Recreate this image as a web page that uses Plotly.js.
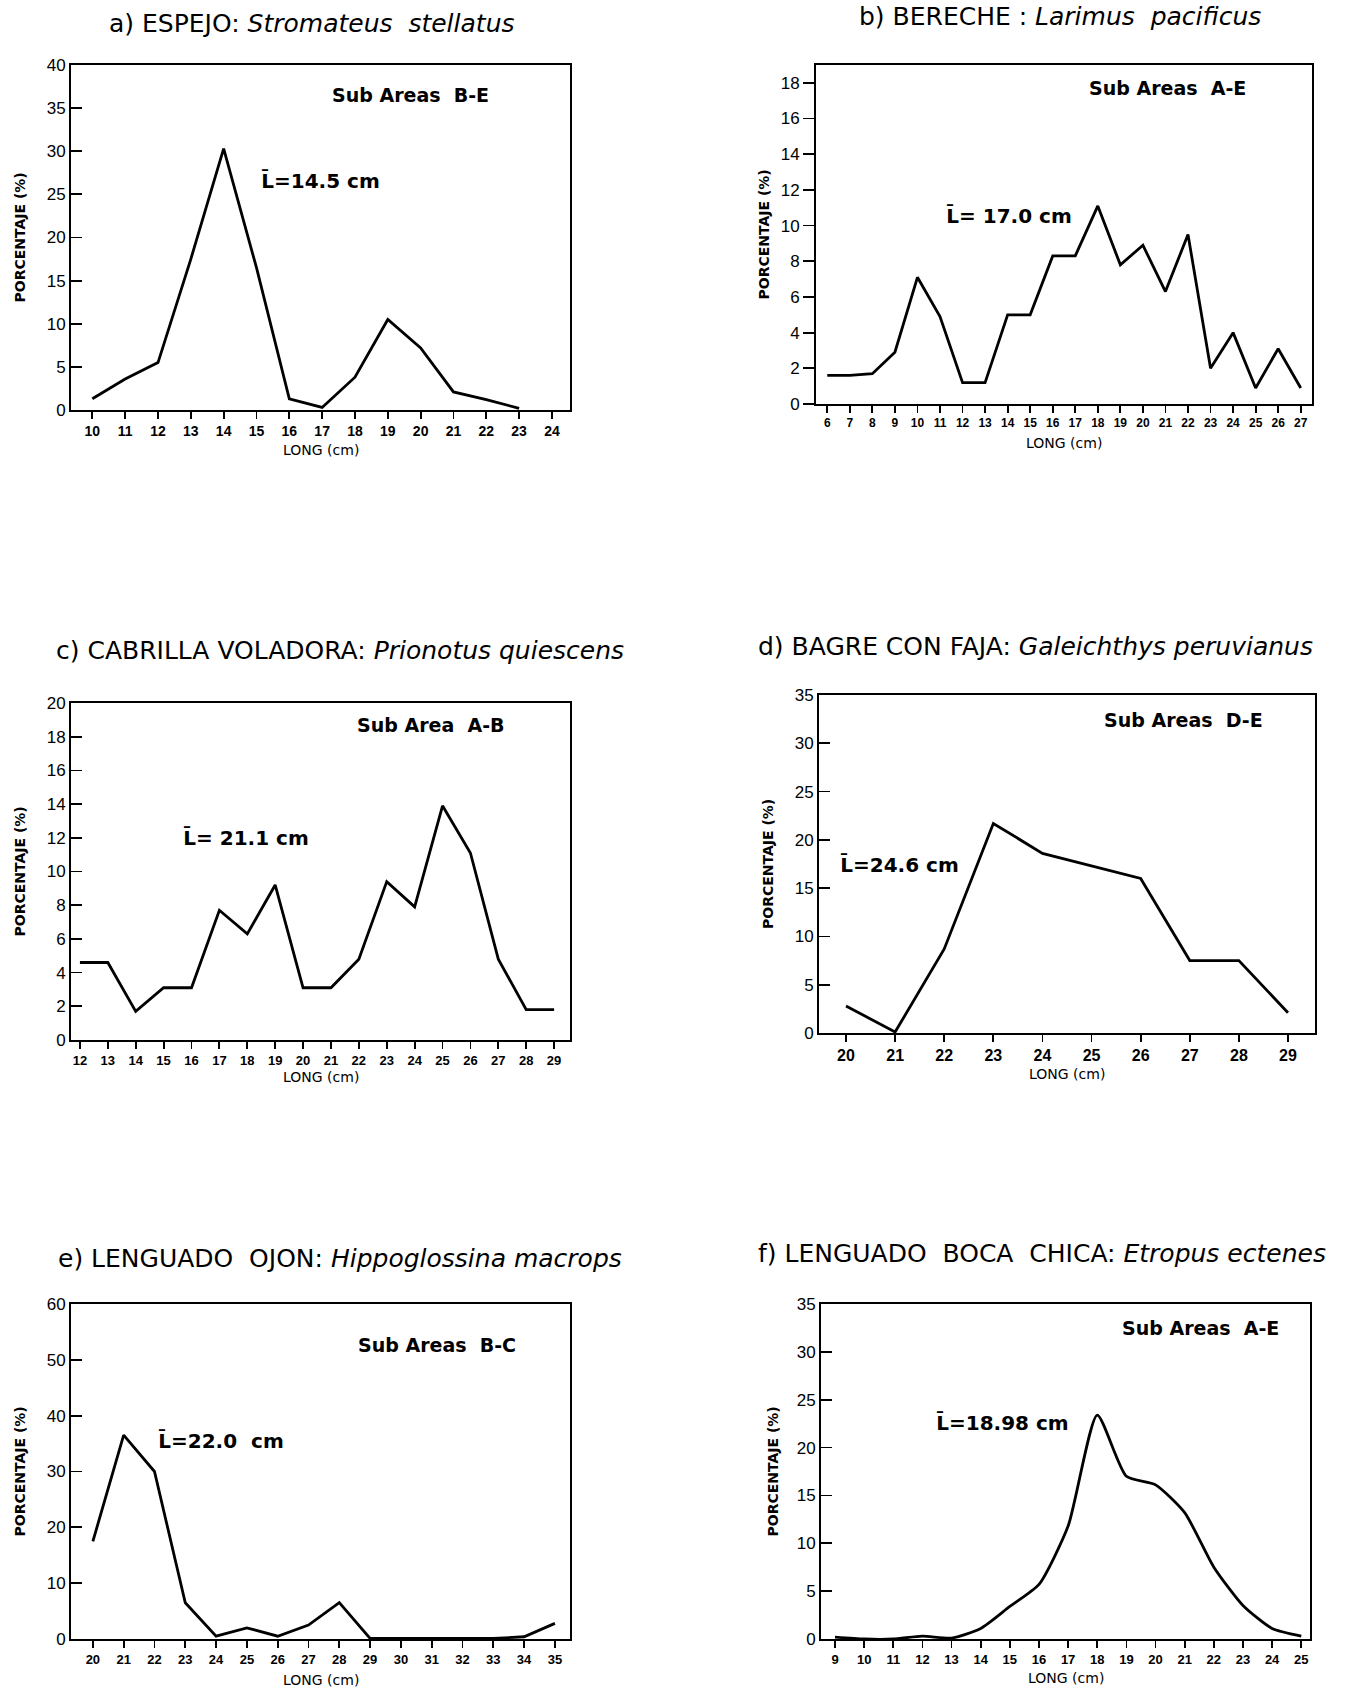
<!DOCTYPE html>
<html>
<head>
<meta charset="utf-8">
<script src="https://cdn.plot.ly/plotly-3.0.1.min.js"></script>
<style>
  html, body { margin: 0; padding: 0; background: #fff; }
  #chart { width: 1353px; height: 1690px; }
</style>
</head>
<body>
<div id="chart"></div>
<script>
// ---------- DATA ----------
const lenA = [10, 11, 12, 13, 14, 15, 16, 17, 18, 19, 20, 21, 22, 23];
const pctA = [1.3, 3.6, 5.5, 17.5, 30.3, 16.5, 1.3, 0.3, 3.8, 10.5, 7.2, 2.1, 1.2, 0.2];

const lenB = [6, 7, 8, 9, 10, 11, 12, 13, 14, 15, 16, 17, 18, 19, 20, 21, 22, 23, 24, 25, 26, 27];
const pctB = [1.6, 1.6, 1.7, 2.9, 7.1, 4.9, 1.2, 1.2, 5.0, 5.0, 8.3, 8.3, 11.1, 7.8, 8.9, 6.3, 9.5, 2.0, 4.0, 0.9, 3.1, 0.9];

const lenC = [12, 13, 14, 15, 16, 17, 18, 19, 20, 21, 22, 23, 24, 25, 26, 27, 28, 29];
const pctC = [4.6, 4.6, 1.7, 3.1, 3.1, 7.7, 6.3, 9.2, 3.1, 3.1, 4.8, 9.4, 7.9, 13.9, 11.1, 4.8, 1.8, 1.8];

const lenD = [20, 21, 22, 23, 24, 25, 26, 27, 28, 29];
const pctD = [2.8, 0.1, 8.7, 21.7, 18.6, 17.3, 16.0, 7.5, 7.5, 2.1];

const lenE = [20, 21, 22, 23, 24, 25, 26, 27, 28, 29, 30, 31, 32, 33, 34, 35];
const pctE = [17.5, 36.5, 30.0, 6.5, 0.5, 2.0, 0.5, 2.5, 6.5, 0.1, 0.1, 0.1, 0.1, 0.1, 0.4, 2.8];

const lenF = [9, 10, 11, 12, 13, 14, 15, 16, 17, 18, 19, 20, 21, 22, 23, 24, 25];
const pctF = [0.2, 0.0, 0.0, 0.3, 0.1, 1.1, 3.4, 5.7, 11.8, 23.4, 17.0, 16.1, 13.2, 7.5, 3.5, 1.1, 0.3];

const ticksA = [0, 5, 10, 15, 20, 25, 30, 35, 40];
const ticksB = [0, 2, 4, 6, 8, 10, 12, 14, 16, 18];
const ticksC = [0, 2, 4, 6, 8, 10, 12, 14, 16, 18, 20];
const ticksD = [0, 5, 10, 15, 20, 25, 30, 35];
const ticksE = [0, 10, 20, 30, 40, 50, 60];
const ticksF = [0, 5, 10, 15, 20, 25, 30, 35];

const titles = [
  'a) ESPEJO: <i>Stromateus  stellatus</i>',
  'b) BERECHE : <i>Larimus  pacificus</i>',
  'c) CABRILLA VOLADORA: <i>Prionotus quiescens</i>',
  'd) BAGRE CON FAJA: <i>Galeichthys peruvianus</i>',
  'e) LENGUADO  OJON: <i>Hippoglossina macrops</i>',
  'f) LENGUADO  BOCA  CHICA: <i>Etropus ectenes</i>'
];
const subAreas = ['Sub Areas  B-E', 'Sub Areas  A-E', 'Sub Area  A-B', 'Sub Areas  D-E', 'Sub Areas  B-C', 'Sub Areas  A-E'];
const means = ['L\u0304=14.5 cm', 'L\u0304= 17.0 cm', 'L\u0304= 21.1 cm', 'L\u0304=24.6 cm', 'L\u0304=22.0  cm', 'L\u0304=18.98 cm'];
const yTitle = 'PORCENTAJE (%)';
const xTitle = 'LONG (cm)';

// ---------- LAYOUT ----------
const W = 1353, H = 1690;
const px = v => v / W;
const py = v => 1 - v / H;

const panels = [
  {x: lenA, y: pctA, yt: ticksA, yr: [0, 40],  xr: [9.35, 24.55], box: [71, 570, 65, 410],   tt: [312, 24],   sa: [410, 95],   mn: [259, 181],  yl: 19,  xl: 450,  ytick: 'inside', xfs: 14},
  {x: lenB, y: pctB, yt: ticksB, yr: [0, 19],  xr: [5.5, 27.5],   box: [816, 1312, 65, 404], tt: [1060, 16],  sa: [1167, 88],  mn: [944, 216],  yl: 763, xl: 443,  ytick: 'outside', xfs: 12},
  {x: lenC, y: pctC, yt: ticksC, yr: [0, 20],  xr: [11.68, 29.57], box: [71, 570, 703, 1040], tt: [340, 651],  sa: [431, 725],  mn: [181, 838],  yl: 19,  xl: 1077, ytick: 'inside', xfs: 13},
  {x: lenD, y: pctD, yt: ticksD, yr: [0, 35],  xr: [19.45, 29.55], box: [819, 1315, 695, 1033], tt: [1035, 646], sa: [1183, 720], mn: [838, 865],  yl: 768, xl: 1074, ytick: 'inside', xfs: 16},
  {x: lenE, y: pctE, yt: ticksE, yr: [0, 60],  xr: [19.29, 35.49], box: [71, 570, 1304, 1639], tt: [340, 1258], sa: [437, 1345], mn: [156, 1441], yl: 19,  xl: 1680, ytick: 'inside', xfs: 13},
  {x: lenF, y: pctF, yt: ticksF, yr: [0, 35],  xr: [8.52, 25.3],  box: [821, 1310, 1304, 1639], tt: [1042, 1253], sa: [1200, 1328], mn: [934, 1423], yl: 772, xl: 1678, ytick: 'inside', xfs: 13}
];

const FONT = 'Liberation Sans, Arial, sans-serif';
const DV = 'DejaVu Sans, sans-serif';
const traces = [];
const layout = {
  width: W, height: H,
  margin: {l: 0, r: 0, t: 0, b: 0},
  paper_bgcolor: '#fff', plot_bgcolor: '#fff',
  showlegend: false,
  font: {family: FONT, color: '#000'},
  annotations: []
};

panels.forEach((p, i) => {
  const n = i + 1;
  const xa = 'xaxis' + (n === 1 ? '' : n);
  const ya = 'yaxis' + (n === 1 ? '' : n);
  const xref = 'x' + (n === 1 ? '' : n);
  const yref = 'y' + (n === 1 ? '' : n);
  const [l, r, t, b] = p.box;
  traces.push({
    type: 'scatter', mode: 'lines', x: p.x, y: p.y,
    xaxis: xref, yaxis: yref,
    line: {color: '#000', width: 2.8, shape: (n === 6 ? 'spline' : 'linear'), smoothing: 0.6},
    hoverinfo: 'skip', cliponaxis: false
  });
  const xticks = p.x.concat(n === 1 ? [24] : []);
  layout[xa] = {
    domain: [px(l), px(r)], anchor: yref, range: p.xr,
    tickmode: 'array', tickvals: xticks, ticktext: xticks.map(String),
    ticks: 'outside', ticklen: 7, tickwidth: 1.8, tickcolor: '#000',
    showline: true, linecolor: '#000', linewidth: 2, mirror: true,
    showgrid: false, zeroline: false, fixedrange: true,
    tickfont: {family: FONT, size: p.xfs, weight: 'bold', color: '#000'}
  };
  layout[ya] = {
    domain: [py(b), py(t)], anchor: xref, range: p.yr,
    tickmode: 'array', tickvals: p.yt,
    ticks: p.ytick, ticklen: 11, tickwidth: 1.8, tickcolor: '#000',
    showline: true, linecolor: '#000', linewidth: 2, mirror: true,
    showgrid: false, zeroline: false, fixedrange: true,
    tickfont: {family: FONT, size: 17, color: '#000'}
  };
  layout.annotations.push(
    {text: titles[i], xref: 'paper', yref: 'paper', x: px(p.tt[0]), y: py(p.tt[1]),
     xanchor: 'center', yanchor: 'middle', showarrow: false,
     font: {family: DV, size: 25, color: '#000'}},
    {text: '<b>' + subAreas[i] + '</b>', xref: 'paper', yref: 'paper', x: px(p.sa[0]), y: py(p.sa[1]),
     xanchor: 'center', yanchor: 'middle', showarrow: false,
     font: {family: DV, size: 19, color: '#000'}},
    {text: '<b>' + means[i] + '</b>', xref: 'paper', yref: 'paper', x: px(p.mn[0]), y: py(p.mn[1]),
     xanchor: 'left', yanchor: 'middle', showarrow: false,
     font: {family: DV, size: 20, color: '#000'}},
    {text: '<b>' + yTitle + '</b>', xref: 'paper', yref: 'paper', x: px(p.yl), y: py((t + b) / 2),
     xanchor: 'center', yanchor: 'middle', textangle: -90, showarrow: false,
     font: {family: DV, size: 14, color: '#000'}},
    {text: xTitle, xref: 'paper', yref: 'paper', x: px((l + r) / 2), y: py(p.xl),
     xanchor: 'center', yanchor: 'middle', showarrow: false,
     font: {family: DV, size: 14, color: '#000'}}
  );
});

Plotly.newPlot('chart', traces, layout, {staticPlot: true, displayModeBar: false});
</script>
</body>
</html>
